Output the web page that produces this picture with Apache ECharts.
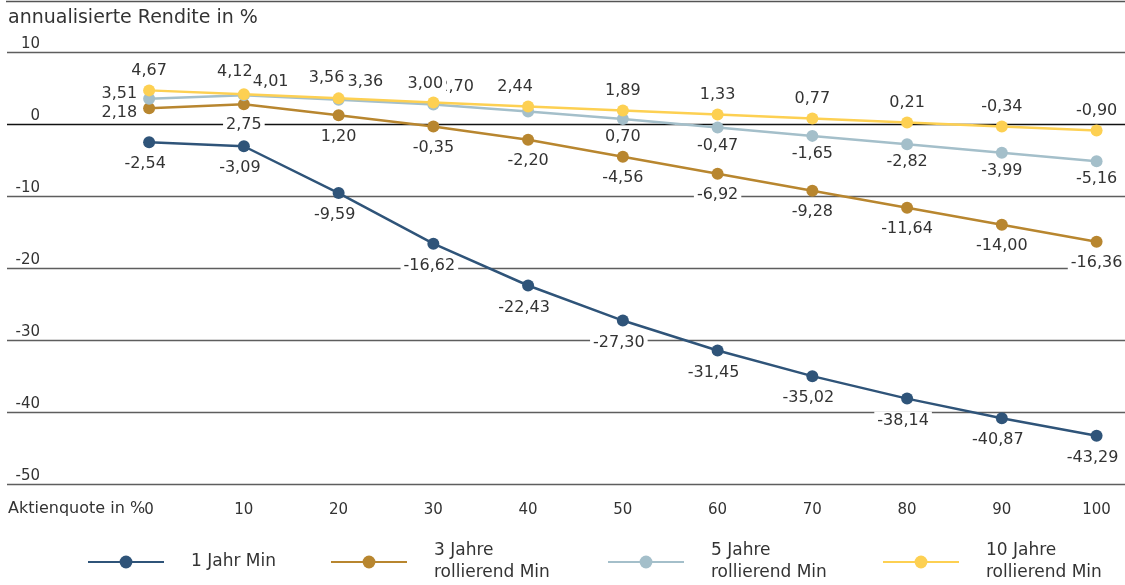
<!DOCTYPE html>
<html>
<head>
<meta charset="utf-8">
<script src="https://cdn.jsdelivr.net/npm/echarts@6/dist/echarts.min.js"></script>
<style>
  html, body { margin: 0; padding: 0; background: #fff; }
  #chart { width: 1125px; height: 585px; }
</style>
</head>
<body>
<div id="chart"></div>
<script>
// Aktienquote (x) in Prozent
const shares = [0, 10, 20, 30, 40, 50, 60, 70, 80, 90, 100];

// Minimale annualisierte Rendite in %
const oneYearMin   = [-2.54, -3.09, -9.59, -16.62, -22.43, -27.30, -31.45, -35.02, -38.14, -40.87, -43.29];
const threeYearMin = [2.18, 2.75, 1.20, -0.35, -2.20, -4.56, -6.92, -9.28, -11.64, -14.00, -16.36];
const fiveYearMin  = [3.51, 4.01, 3.36, 2.70, 1.75, 0.70, -0.47, -1.65, -2.82, -3.99, -5.16];
const tenYearMin   = [4.67, 4.12, 3.56, 3.00, 2.44, 1.89, 1.33, 0.77, 0.21, -0.34, -0.90];

const seriesNames = ['1 Jahr Min', '3 Jahre rollierend Min', '5 Jahre rollierend Min', '10 Jahre rollierend Min'];
const yTicks = [-50, -40, -30, -20, -10, 0, 10];

const FONT = '"DejaVu Sans"';
const TEXT = '#333333';
const colors = ['#2f5479', '#b8862f', '#a4bfca', '#fdd052'];

const fmt = v => v.toFixed(2).replace('.', ',');

// per-point label placement tweaks, keyed by series and point index
const labelTweaks = {
  1: { 0: { position: 'left', distance: 3, offset: [0, 5] } },
  2: {
    0: { position: 'left', distance: 3, offset: [0, -5] },
    1: { position: 'right', distance: 0, offset: [0, -13] },
    2: { position: 'right', distance: 0, offset: [0, -18] },
    3: { position: 'right', distance: 0, offset: [-4, -18] },
    4: { show: false }
  },
  3: {
    1: { offset: [-9, -2] },
    2: { offset: [-12, -1] },
    3: { offset: [-8, 1] },
    4: { offset: [-13, 0] }
  }
};

const baseLabels = [
  { position: 'bottom', distance: 7, offset: [-4, 0] },
  { position: 'bottom', distance: 6 },
  { position: 'bottom', distance: 3 },
  { position: 'top', distance: 5 }
];

function buildSeries(idx, values) {
  const tweaks = labelTweaks[idx] || {};
  return {
    name: seriesNames[idx],
    type: 'line',
    symbol: 'circle',
    symbolSize: 12,
    color: colors[idx],
    lineStyle: { width: 2.5, color: colors[idx] },
    itemStyle: { color: colors[idx] },
    label: Object.assign({
      show: true,
      fontFamily: FONT,
      fontSize: 16,
      color: TEXT,
      backgroundColor: '#ffffff',
      padding: [1, 3],
      formatter: p => fmt(p.value[1])
    }, baseLabels[idx]),
    emphasis: { disabled: true },
    data: shares.map((x, i) => {
      const item = { value: [x, values[i]] };
      if (tweaks[i]) item.label = tweaks[i];
      return item;
    })
  };
}

const chart = echarts.init(document.getElementById('chart'), null, { renderer: 'canvas' });

const legendLefts = [87, 330, 607, 882];

chart.setOption({
  animation: false,
  textStyle: { fontFamily: FONT },
  grid: { left: 7, right: 0, top: 52, bottom: 101 },
  xAxis: {
    type: 'value',
    min: -15,
    max: 103,
    axisLine: { show: false },
    axisTick: { show: false },
    splitLine: { show: false },
    axisLabel: {
      customValues: shares,
      fontFamily: FONT,
      fontSize: 15,
      color: TEXT,
      margin: 19
    }
  },
  yAxis: {
    type: 'value',
    min: -50,
    max: 10,
    interval: 10,
    axisLine: { show: false },
    axisTick: { show: false },
    axisLabel: {
      inside: true,
      align: 'right',
      verticalAlign: 'bottom',
      margin: 33,
      fontFamily: FONT,
      fontSize: 15,
      color: TEXT,
      formatter: v => (yTicks.indexOf(v) >= 0 ? String(v) : '')
    },
    splitLine: {
      show: true,
      lineStyle: {
        width: 1.3,
        color: ['#5e5e5e', '#5e5e5e', '#5e5e5e', '#5e5e5e', '#5e5e5e', '#111111', '#5e5e5e']
      }
    }
  },
  legend: legendLefts.map((left, i) => ({
    data: [seriesNames[i]],
    left: left,
    top: i === 0 ? 551 : 540,
    padding: 0,
    itemWidth: 76,
    itemHeight: 16,
    selectedMode: false,
    formatter: name => name.replace(' rollierend', '\nrollierend'),
    textStyle: {
      fontFamily: FONT,
      fontSize: 17,
      color: TEXT,
      lineHeight: 22,
      padding: [0, 0, 0, 22]
    }
  })),
  graphic: [
    {
      type: 'line',
      shape: { x1: 6, y1: 1.5, x2: 1125, y2: 1.5 },
      style: { stroke: '#555555', lineWidth: 1.5 }
    },
    {
      type: 'text',
      left: 8,
      top: 9,
      style: { text: 'annualisierte Rendite in %', font: '19px ' + FONT, fill: TEXT }
    },
    {
      type: 'text',
      left: 8,
      top: 501,
      style: { text: 'Aktienquote in %', font: '16px ' + FONT, fill: TEXT }
    }
  ],
  series: [
    buildSeries(0, oneYearMin),
    buildSeries(1, threeYearMin),
    buildSeries(2, fiveYearMin),
    buildSeries(3, tenYearMin)
  ]
});
</script>
</body>
</html>
